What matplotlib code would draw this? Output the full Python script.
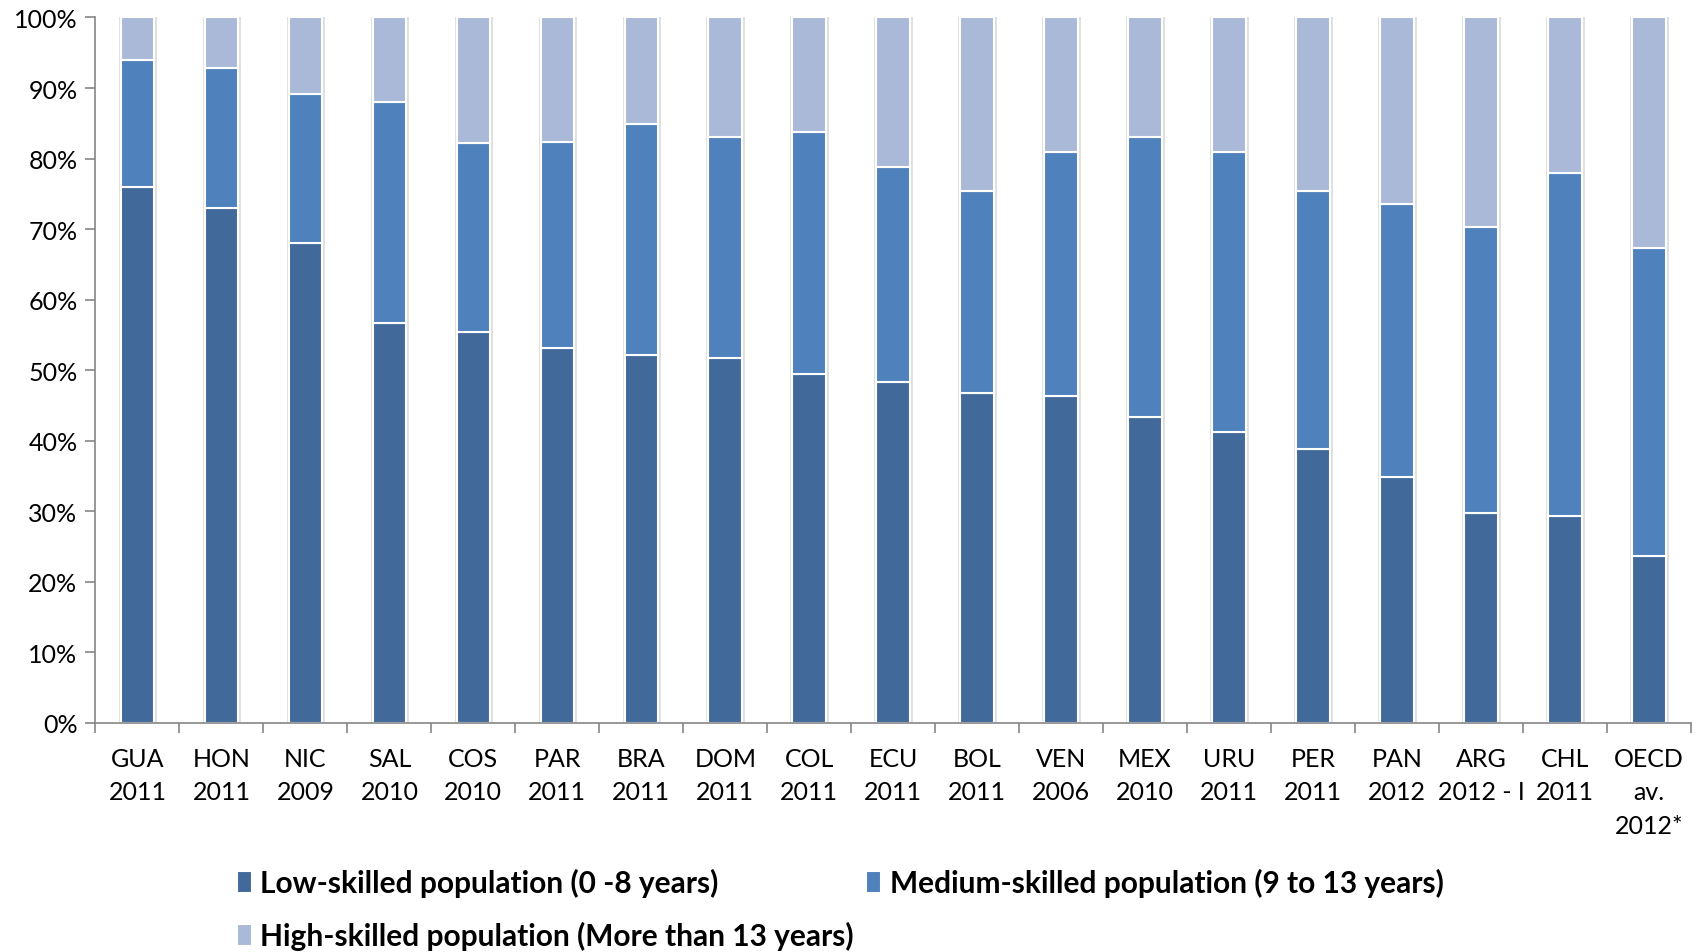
import matplotlib
matplotlib.use('Agg')
import matplotlib.pyplot as plt
import numpy as np
from matplotlib.ticker import PercentFormatter

plt.rcParams['font.family'] = ['Lato', 'DejaVu Sans']

countries = ['GUA\n2011', 'HON\n2011', 'NIC\n2009', 'SAL\n2010', 'COS\n2010',
             'PAR\n2011', 'BRA\n2011', 'DOM\n2011', 'COL\n2011', 'ECU\n2011',
             'BOL\n2011', 'VEN\n2006', 'MEX\n2010', 'URU\n2011', 'PER\n2011',
             'PAN\n2012', 'ARG\n2012 - I', 'CHL\n2011', 'OECD\nav.\n2012*']

low = [76.0, 73.0, 68.1, 56.7, 55.4, 53.2, 52.1, 51.8, 49.4, 48.3,
       46.8, 46.4, 43.4, 41.2, 38.9, 34.8, 29.8, 29.3, 23.7]
medium = [18.0, 19.9, 21.1, 31.3, 26.8, 29.1, 32.8, 31.3, 34.3, 30.5,
          28.6, 34.6, 39.6, 39.8, 36.5, 38.8, 40.5, 48.6, 43.6]
high = [100 - a - b for a, b in zip(low, medium)]

labels = ['Low-skilled population (0 -8 years)',
          'Medium-skilled population (9 to 13 years)',
          'High-skilled population (More than 13 years)']
colors = ['#416a9b', '#4f81bd', '#aab9d7']

fig = plt.figure(figsize=(17.02, 9.53), dpi=100)
ax = fig.add_axes([0.0561, 0.2403, 0.9374, 0.7403])

x = np.arange(len(countries))
w = 0.4
bottom = np.zeros(len(x))
handles = []
for vals, c, lab in zip([low, medium, high], colors, labels):
    vals = np.array(vals)
    # soft grey outline, mimics the little shadow around each bar
    ax.bar(x, vals, w, bottom=bottom, color='none', edgecolor='#dedede',
           linewidth=3.5, zorder=1)
    h = ax.bar(x, vals, w, bottom=bottom, color=c, edgecolor='white',
               linewidth=1.5, label=lab, zorder=2)
    handles.append(h)
    bottom += vals

ax.set_xlim(-0.5, len(x) - 0.5)
ax.set_ylim(0, 100)
ax.yaxis.set_major_formatter(PercentFormatter(decimals=0))
ax.set_yticks(np.arange(0, 101, 10))

ax.set_xticks(x)
ax.set_xticklabels(countries, fontsize=18, linespacing=1.55)
ax.set_xticks(np.arange(-0.5, len(x), 1), minor=True)
ax.tick_params(axis='x', which='major', length=0, pad=17)
ax.tick_params(axis='x', which='minor', length=7, color='#868686', width=1.2)
ax.tick_params(axis='y', length=7, color='#868686', width=1.2, labelsize=18, pad=6)

for s in ['top', 'right']:
    ax.spines[s].set_visible(False)
for s in ['left', 'bottom']:
    ax.spines[s].set_color('#868686')
    ax.spines[s].set_linewidth(1.2)

# legend fills column-wise, so reorder to get Low, Medium on the first row
order = [0, 2, 1]
leg = fig.legend(handles=[handles[i] for i in order],
                 labels=[labels[i] for i in order], loc='upper left',
                 bbox_to_anchor=(0.139, 0.088), ncol=2, frameon=False,
                 prop={'size': 21.5, 'weight': 'bold'}, handlelength=0.5,
                 handleheight=0.75, handletextpad=0.3, columnspacing=0.4,
                 labelspacing=0.8, borderaxespad=0, borderpad=0)

fig.savefig('out.png', dpi=100)
